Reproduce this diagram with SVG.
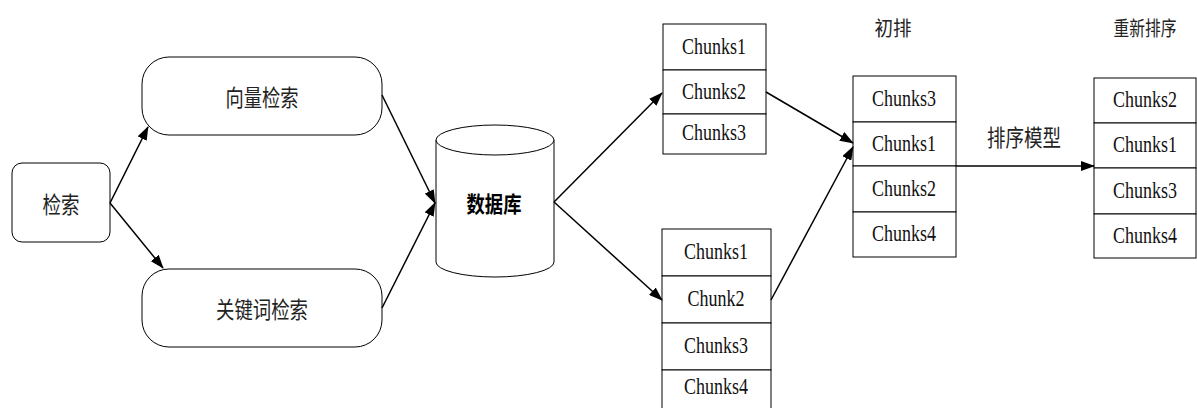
<svg xmlns="http://www.w3.org/2000/svg" width="1197" height="408" viewBox="0 0 1197 408">
  <style>
    .box { fill: #fff; stroke: #000; stroke-width: 1; }
    .cn { font-family: "Noto Sans CJK SC", "Noto Sans", sans-serif; font-size: 23px; fill: #222; text-anchor: middle; dominant-baseline: central; }
    .hd { font-family: "Noto Sans CJK SC", "Noto Sans", sans-serif; font-size: 20px; fill: #222; text-anchor: middle; dominant-baseline: central; }
    .db { font-family: "Noto Sans CJK SC", "Noto Sans", sans-serif; font-size: 22px; fill: #000; font-weight: bold; text-anchor: middle; dominant-baseline: central; }
    .ch { font-family: "Liberation Serif", "Times New Roman", serif; font-size: 24px; fill: #111; text-anchor: middle; dominant-baseline: central; }
    .edge { fill: none; stroke: #000; stroke-width: 1.5; }
  </style>
  <defs>
    <marker id="arrow" markerWidth="14" markerHeight="10" refX="13" refY="5" orient="auto" markerUnits="userSpaceOnUse">
      <path d="M0,0 L14,5 L0,10 Z" fill="#000"/>
    </marker>
  </defs>

  <rect width="1197" height="408" fill="#fff"/>

  <g id="search">
    <rect class="box" x="12" y="163" width="98" height="79" rx="10"/>
    <text class="cn" x="61" y="203" textLength="37" lengthAdjust="spacingAndGlyphs">检索</text>
  </g>

  <g id="vector-search">
    <rect class="box" x="142" y="57" width="240" height="78" rx="27"/>
    <text class="cn" x="262" y="96" textLength="73" lengthAdjust="spacingAndGlyphs">向量检索</text>
  </g>

  <g id="keyword-search">
    <rect class="box" x="142" y="269" width="240" height="78" rx="27"/>
    <text class="cn" x="262" y="308" textLength="92" lengthAdjust="spacingAndGlyphs">关键词检索</text>
  </g>

  <g id="database">
    <path class="box" d="M436,140 A59,15 0 0 1 554,140 L554,262 A59,15 0 0 1 436,262 Z"/>
    <path class="box" d="M436,140 A59,15 0 0 0 554,140" fill="none"/>
    <text class="db" x="494" y="202" textLength="55" lengthAdjust="spacingAndGlyphs">数据库</text>
  </g>

  <g id="vector-results">
    <rect class="box" x="663" y="24" width="103" height="46"/>
    <rect class="box" x="663" y="70" width="103" height="44"/>
    <rect class="box" x="663" y="114" width="103" height="40"/>
    <text class="ch" x="714" y="46" textLength="64" lengthAdjust="spacingAndGlyphs">Chunks1</text>
    <text class="ch" x="714" y="91" textLength="64" lengthAdjust="spacingAndGlyphs">Chunks2</text>
    <text class="ch" x="714" y="132" textLength="64" lengthAdjust="spacingAndGlyphs">Chunks3</text>
  </g>

  <g id="keyword-results">
    <rect class="box" x="662" y="229" width="109" height="47"/>
    <rect class="box" x="662" y="276" width="109" height="47"/>
    <rect class="box" x="662" y="323" width="109" height="47"/>
    <rect class="box" x="662" y="370" width="109" height="40"/>
    <text class="ch" x="716" y="251" textLength="64" lengthAdjust="spacingAndGlyphs">Chunks1</text>
    <text class="ch" x="716" y="298" textLength="57" lengthAdjust="spacingAndGlyphs">Chunk2</text>
    <text class="ch" x="716" y="345" textLength="64" lengthAdjust="spacingAndGlyphs">Chunks3</text>
    <text class="ch" x="716" y="386" textLength="64" lengthAdjust="spacingAndGlyphs">Chunks4</text>
  </g>

  <g id="initial-rank">
    <text class="hd" x="893" y="27" textLength="37" lengthAdjust="spacingAndGlyphs">初排</text>
    <rect class="box" x="853" y="76" width="103" height="46"/>
    <rect class="box" x="853" y="122" width="103" height="44"/>
    <rect class="box" x="853" y="166" width="103" height="46"/>
    <rect class="box" x="853" y="212" width="103" height="45"/>
    <text class="ch" x="904" y="98" textLength="64" lengthAdjust="spacingAndGlyphs">Chunks3</text>
    <text class="ch" x="904" y="143" textLength="64" lengthAdjust="spacingAndGlyphs">Chunks1</text>
    <text class="ch" x="904" y="188" textLength="64" lengthAdjust="spacingAndGlyphs">Chunks2</text>
    <text class="ch" x="904" y="233" textLength="64" lengthAdjust="spacingAndGlyphs">Chunks4</text>
  </g>

  <g id="reranked">
    <text class="hd" x="1145" y="27" textLength="63" lengthAdjust="spacingAndGlyphs">重新排序</text>
    <rect class="box" x="1094" y="78" width="102" height="45"/>
    <rect class="box" x="1094" y="123" width="102" height="45"/>
    <rect class="box" x="1094" y="168" width="102" height="46"/>
    <rect class="box" x="1094" y="214" width="102" height="44"/>
    <text class="ch" x="1145" y="99" textLength="64" lengthAdjust="spacingAndGlyphs">Chunks2</text>
    <text class="ch" x="1145" y="144" textLength="64" lengthAdjust="spacingAndGlyphs">Chunks1</text>
    <text class="ch" x="1145" y="190" textLength="64" lengthAdjust="spacingAndGlyphs">Chunks3</text>
    <text class="ch" x="1145" y="235" textLength="64" lengthAdjust="spacingAndGlyphs">Chunks4</text>
  </g>

  <g id="connectors">
    <line class="edge" x1="110" y1="203" x2="148" y2="127" marker-end="url(#arrow)"/>
    <line class="edge" x1="110" y1="203" x2="163" y2="268" marker-end="url(#arrow)"/>
    <line class="edge" x1="382" y1="95" x2="435" y2="203" marker-end="url(#arrow)"/>
    <line class="edge" x1="382" y1="308" x2="435" y2="203" marker-end="url(#arrow)"/>
    <line class="edge" x1="554" y1="202" x2="662" y2="93" marker-end="url(#arrow)"/>
    <line class="edge" x1="554" y1="202" x2="662" y2="300" marker-end="url(#arrow)"/>
    <line class="edge" x1="766" y1="92" x2="853" y2="143" marker-end="url(#arrow)"/>
    <line class="edge" x1="771" y1="300" x2="853" y2="147" marker-end="url(#arrow)"/>
    <line class="edge" x1="956" y1="166" x2="1094" y2="166" marker-end="url(#arrow)"/>
    <text class="cn" x="1024" y="136" textLength="74" lengthAdjust="spacingAndGlyphs">排序模型</text>
  </g>
</svg>
